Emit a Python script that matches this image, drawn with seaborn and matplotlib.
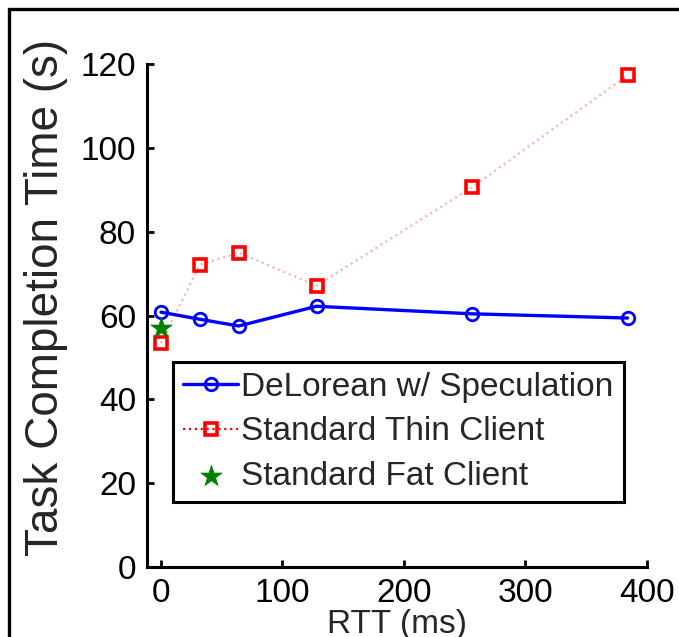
import matplotlib
matplotlib.use("Agg")
import matplotlib.pyplot as plt
from matplotlib.patches import Rectangle
import seaborn as sns
import pandas as pd

# Round-trip times (ms) and task completion times (s)
rtt = [0, 32, 64, 128, 256, 384]
delorean = [60.8, 59.1, 57.5, 62.2, 60.4, 59.4]
thin_client = [53.4, 72.1, 75.0, 67.1, 90.6, 117.3]
fat_rtt = [0]
fat_client = [57.1]

series_names = ["DeLorean w/ Speculation", "Standard Thin Client", "Standard Fat Client"]
x_ticks = [0, 100, 200, 300, 400]
y_ticks = [0, 20, 40, 60, 80, 100, 120]

sns.set_style("ticks")
plt.rcParams["font.family"] = ["Liberation Sans", "DejaVu Sans"]

W, H = 679, 637
fig = plt.figure(figsize=(W / 100, H / 100), dpi=100)
ax = fig.add_axes([147 / W, 1 - 567 / H, 500 / W, 503 / H])

df_d = pd.DataFrame({"rtt": rtt, "t": delorean})
df_t = pd.DataFrame({"rtt": rtt, "t": thin_client})
df_f = pd.DataFrame({"rtt": fat_rtt, "t": fat_client})

sns.lineplot(data=df_d, x="rtt", y="t", ax=ax, color="#0000ff", lw=2.4,
             marker="o", markersize=9, markerfacecolor="none",
             markeredgecolor="#0000ff", markeredgewidth=2.0,
             label=series_names[0], zorder=3)
sns.lineplot(data=df_t, x="rtt", y="t", ax=ax, color="#ff6060", lw=1.6,
             linestyle=":", marker="s", markersize=9, markerfacecolor="none",
             markeredgecolor="#ff0000", markeredgewidth=2.6,
             label=series_names[1], zorder=2)
# soften the dotted connector while keeping the square markers crisp
ax.lines[-1].set_color((1.0, 0.45, 0.45, 0.55))
ax.lines[-1].set_markeredgecolor("#ff0000")
sns.scatterplot(data=df_f, x="rtt", y="t", ax=ax, marker="*", s=260,
                color="#008000", edgecolor="#008000", linewidth=0.5,
                label=series_names[2], zorder=4)

ax.set_xlim(-11.5, 400)
ax.set_ylim(0, 120)
ax.set_xticks(x_ticks)
ax.set_yticks(y_ticks)
ax.set_xlabel("RTT (ms)", fontsize=24, labelpad=0)
ax.set_ylabel("Task Completion Time (s)", fontsize=33)
ax.yaxis.set_label_coords(-0.158, 0.535)

for side in ("top", "right"):
    ax.spines[side].set_visible(False)
for side in ("left", "bottom"):
    ax.spines[side].set_linewidth(2.2)
    ax.spines[side].set_color("black")
ax.tick_params(direction="in", length=5, width=2, labelsize=24,
               colors="black", pad=8)

leg = ax.legend(loc="upper left", bbox_to_anchor=(0.052, 0.4076),
                borderaxespad=0, fontsize=24, handlelength=1.65,
                handletextpad=0.1, labelspacing=0.4, borderpad=0.3,
                fancybox=False, framealpha=1)
leg.get_frame().set_edgecolor("black")
leg.get_frame().set_linewidth(2.2)
leg.legend_handles[1].set_color("#ff0000")

# Outer frame around the figure
fig.patches.append(Rectangle((8.5 / W, -0.1), 1.2, 1 - 8.5 / H + 0.1,
                             transform=fig.transFigure, fill=False,
                             edgecolor="black", lw=2.4, clip_on=False))

fig.savefig("out.png", dpi=100)
